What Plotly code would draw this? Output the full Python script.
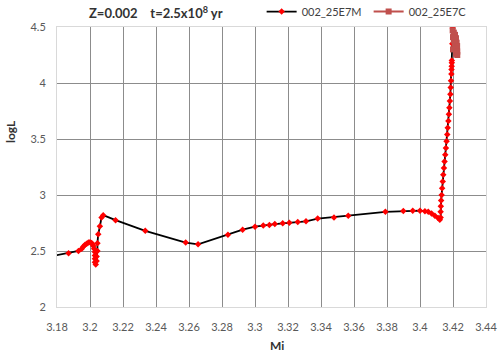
import plotly.graph_objects as go

# Series M (black line, red markers)
m_x = [3.175, 3.187, 3.193, 3.195, 3.196, 3.197, 3.198, 3.199, 3.200, 3.201, 3.2015,
       3.202, 3.2025, 3.203, 3.203, 3.203, 3.203, 3.2035, 3.204, 3.204, 3.2045, 3.2045,
       3.205, 3.206, 3.207, 3.208, 3.2155, 3.2335, 3.258, 3.2655, 3.2836, 3.2925,
       3.300, 3.305, 3.3087, 3.312, 3.3168, 3.3208, 3.3259, 3.3309, 3.338, 3.3479,
       3.3565, 3.379, 3.3899, 3.3956, 3.400, 3.403, 3.405, 3.407, 3.409, 3.411, 3.412,
       3.4125, 3.4125, 3.4126, 3.4128, 3.4131, 3.4134, 3.4138, 3.4141, 3.4145, 3.4149,
       3.4153, 3.4157, 3.4161, 3.4165, 3.4168, 3.4172, 3.4175, 3.4178, 3.4181, 3.4184,
       3.4186, 3.4188, 3.4190, 3.4191, 3.4192, 3.4193, 3.4193, 3.4196, 3.4198]
m_y = [2.45, 2.48, 2.50, 2.52, 2.54, 2.555, 2.565, 2.575, 2.578, 2.572, 2.56,
       2.545, 2.52, 2.49, 2.46, 2.43, 2.40, 2.38, 2.41, 2.45, 2.50, 2.57,
       2.65, 2.72, 2.80, 2.82, 2.775, 2.68, 2.575, 2.56, 2.645, 2.69,
       2.717, 2.728, 2.733, 2.74, 2.747, 2.753, 2.76, 2.765, 2.79, 2.80,
       2.815, 2.85, 2.857, 2.86, 2.86, 2.855, 2.85, 2.835, 2.815, 2.795, 2.78,
       2.80, 2.85, 2.90, 2.95, 3.00, 3.06, 3.12, 3.18, 3.24, 3.30,
       3.36, 3.42, 3.48, 3.54, 3.60, 3.66, 3.72, 3.78, 3.84, 3.90,
       3.96, 4.02, 4.08, 4.12, 4.15, 4.18, 4.20, 4.35, 4.49]

# Series C (dark red squares)
c_x = [3.4198, 3.4205, 3.4212, 3.4200, 3.4218, 3.4205, 3.4222, 3.4210, 3.4225,
       3.4215, 3.4200, 3.4226, 3.4218, 3.4226]
c_y = [4.47, 4.45, 4.43, 4.41, 4.40, 4.38, 4.36, 4.35, 4.33,
       4.31, 4.30, 4.28, 4.26, 4.25]

x_ticks = [3.18, 3.2, 3.22, 3.24, 3.26, 3.28, 3.3, 3.32, 3.34, 3.36, 3.38, 3.4, 3.42, 3.44]
x_labels = ["3.18", "3.2", "3.22", "3.24", "3.26", "3.28", "3.3", "3.32", "3.34",
            "3.36", "3.38", "3.4", "3.42", "3.44"]
y_ticks = [2, 2.5, 3, 3.5, 4, 4.5]
y_labels = ["2", "2.5", "3", "3.5", "4", "4.5"]

FONT = "Lato"
fig = go.Figure()
fig.add_trace(go.Scatter(
    x=m_x, y=m_y, mode="lines+markers", name="002_25E7M",
    line=dict(color="black", width=1.8),
    marker=dict(symbol="diamond", size=5, color="#FF0000"),
))
fig.add_trace(go.Scatter(
    x=c_x, y=c_y, mode="lines+markers", name="002_25E7C",
    line=dict(color="#C0504D", width=2),
    marker=dict(symbol="square", size=6, color="#C0504D"),
))

fig.update_layout(
    width=500, height=353,
    margin=dict(l=57, r=14, t=27, b=46, autoexpand=False),
    paper_bgcolor="white", plot_bgcolor="white",
    font=dict(family=FONT, size=11, color="#595959"),
    showlegend=True,
    legend=dict(orientation="h", x=0.477, y=1.055, xanchor="left", yanchor="middle",
                font=dict(family=FONT, size=11, color="#404040"),
                bgcolor="rgba(0,0,0,0)", itemwidth=30, tracegroupgap=0,
                entrywidth=62, entrywidthmode="pixels"),
    xaxis=dict(range=[3.18, 3.44], tickvals=x_ticks, ticktext=x_labels,
               showgrid=True, gridcolor="#8C8C8C", gridwidth=1,
               showline=True, linecolor="#D9D9D9", mirror=True, zeroline=False,
               ticks="", ticklabelstandoff=10, tickfont=dict(size=11, color="#595959")),
    yaxis=dict(range=[2, 4.5], tickvals=y_ticks, ticktext=y_labels,
               showgrid=True, gridcolor="#8C8C8C", gridwidth=1,
               showline=True, linecolor="#D9D9D9", mirror=True, zeroline=False,
               ticks="", ticklabelstandoff=8, tickfont=dict(size=11, color="#595959")),
    annotations=[
        dict(text="<b>Z=0.002    t=2.5x10<sup>8</sup> yr</b>", xref="paper", yref="paper",
             x=(156 - 57) / 429, y=(307 - 13) / 280, xanchor="center", yanchor="middle",
             showarrow=False, font=dict(family=FONT, size=13, color="#333333")),
        dict(text="<b>Mi</b>", xref="paper", yref="paper",
             x=(277 - 57) / 429, y=(307 - 345) / 280, xanchor="center", yanchor="middle",
             showarrow=False, font=dict(family=FONT, size=12, color="#333333")),
        dict(text="<b>logL</b>", xref="paper", yref="paper", textangle=-90,
             x=(10 - 57) / 429, y=(307 - 132) / 280, xanchor="center", yanchor="middle",
             showarrow=False, font=dict(family=FONT, size=12, color="#333333")),
    ],
)

fig.write_html("out.html")
